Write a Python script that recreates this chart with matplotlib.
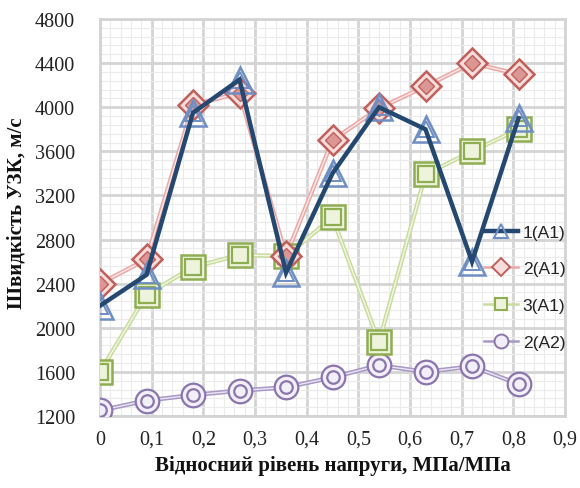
import matplotlib
matplotlib.use("Agg")
import matplotlib.pyplot as plt
import matplotlib.patheffects as pe
from matplotlib.lines import Line2D
from matplotlib.ticker import MultipleLocator, FuncFormatter

x = [0, 0.09, 0.18, 0.27, 0.36, 0.45, 0.54, 0.63, 0.72, 0.81]
s1_A1 = [2200, 2480, 3950, 4250, 2500, 3400, 4000, 3800, 2600, 3900]
s2_A1 = [2400, 2620, 4020, 4130, 2650, 3700, 3990, 4190, 4400, 4300]
s3_A1 = [1600, 2300, 2550, 2660, 2650, 3000, 1870, 3390, 3600, 3800]
s2_A2 = [1250, 1340, 1390, 1430, 1460, 1550, 1660, 1600, 1650, 1490]
labels = ["1(A1)", "2(A1)", "3(A1)", "2(A2)"]
x_ticks = [0, 0.1, 0.2, 0.3, 0.4, 0.5, 0.6, 0.7, 0.8, 0.9]
y_ticks = [1200, 1600, 2000, 2400, 2800, 3200, 3600, 4000, 4400, 4800]

fig = plt.figure(figsize=(5.8, 4.89), dpi=100)
ax = fig.add_axes([100/580, 1-417/489, 465/580, 397/489])
ax.set_xlim(0, 0.9)
ax.set_ylim(1200, 4800)

# grid
ax.xaxis.set_major_locator(MultipleLocator(0.1))
ax.xaxis.set_minor_locator(MultipleLocator(0.02))
ax.yaxis.set_major_locator(MultipleLocator(400))
ax.yaxis.set_minor_locator(MultipleLocator(80))
ax.grid(which="minor", color="#ebebeb", linewidth=0.8)
ax.grid(which="major", color="#d4d4d4", linewidth=2.0)
ax.set_axisbelow(True)
for sp in ax.spines.values():
    sp.set_color("#d4d4d4")
    sp.set_linewidth(2.0)
ax.tick_params(which="both", length=0)
ax.tick_params(axis="y", pad=18)
ax.tick_params(axis="x", pad=10)
ax.set_xticks(x_ticks)
ax.set_yticks(y_ticks)
ax.xaxis.set_major_formatter(FuncFormatter(lambda v, p: "0" if abs(v) < 1e-9 else ("%.1f" % v).replace(".", ",")))
for lab in ax.get_xticklabels() + ax.get_yticklabels():
    lab.set_fontfamily("Liberation Serif")
    lab.set_fontsize(14.5)
    lab.set_color("#222222")

def double_line(xs, ys, edge, inner, z):
    ax.plot(xs, ys, color=inner, linewidth=1.0, zorder=z,
            path_effects=[pe.Stroke(linewidth=3.2, foreground=edge), pe.Normal()])

# series 2(A2) purple
pur_e, pur_i = "#a898c4", "#ece6f4"
double_line(x, s2_A2, pur_e, pur_i, 2)
ax.plot(x, s2_A2, linestyle="none", marker="o", markersize=17, markerfacecolor="#f3eff8",
        markeredgecolor="#8a76ad", markeredgewidth=1.6, zorder=3)
ax.plot(x, s2_A2, linestyle="none", marker="o", markersize=9, markerfacecolor="none",
        markeredgecolor="#8a76ad", markeredgewidth=1.6, zorder=3)

# series 3(A1) green
gr_e, gr_i = "#c9dc9e", "#f2f7e6"
double_line(x, s3_A1, gr_e, gr_i, 2)
ax.plot(x, s3_A1, linestyle="none", marker="s", markersize=17, markerfacecolor="#eef4dc",
        markeredgecolor="#8fae52", markeredgewidth=1.8, zorder=3)
ax.plot(x, s3_A1, linestyle="none", marker="s", markersize=11, markerfacecolor="none",
        markeredgecolor="#8fae52", markeredgewidth=1.6, zorder=3)

# series 2(A1) red
rd_e, rd_i = "#eaa9a7", "#fbe9e8"
double_line(x, s2_A1, rd_e, rd_i, 2)
ax.plot(x, s2_A1, linestyle="none", marker="D", markersize=15, markerfacecolor="#f6dcdb",
        markeredgecolor="#c0605c", markeredgewidth=1.8, zorder=3)
ax.plot(x, s2_A1, linestyle="none", marker="D", markersize=8, markerfacecolor="#dc9694",
        markeredgecolor="#c0605c", markeredgewidth=1.0, zorder=3)

# series 1(A1) blue
ax.plot(x, s1_A1, linestyle="none", marker="^", markersize=19, markerfacecolor="none",
        markeredgecolor="#6f8fc4", markeredgewidth=1.8, zorder=4)
ax.plot(x, s1_A1, linestyle="none", marker="^", markersize=12, markerfacecolor="none",
        markeredgecolor="#6f8fc4", markeredgewidth=1.4, zorder=4)
ax.plot(x, s1_A1, color="#24486f", linewidth=3.2, zorder=5, solid_joinstyle="miter")

# legend
h1 = Line2D([], [], color="#24486f", linewidth=3.2, marker="^", markersize=10,
            markerfacecolor="none", markeredgecolor="#6f8fc4", markeredgewidth=1.5)
h2 = Line2D([], [], color=rd_e, linewidth=1.8, marker="D", markersize=9,
            markerfacecolor="#f6dcdb", markeredgecolor="#c0605c", markeredgewidth=1.4)
h3 = Line2D([], [], color=gr_e, linewidth=1.8, marker="s", markersize=9,
            markerfacecolor="#eef4dc", markeredgecolor="#8fae52", markeredgewidth=1.5)
h4 = Line2D([], [], color=pur_e, linewidth=1.8, marker="o", markersize=10,
            markerfacecolor="#f3eff8", markeredgecolor="#8a76ad", markeredgewidth=1.4)
leg = ax.legend([h1, h2, h3, h4], labels, loc="upper left", bbox_to_anchor=(0.81, 0.50),
                frameon=False, prop={"family": "Liberation Sans", "size": 12.5},
                handlelength=2.0, handletextpad=0.25, labelspacing=1.25, borderaxespad=0)
for t in leg.get_texts():
    t.set_color("#222222")

fig.text(17/580, 1-213/489, "Швидкість УЗК, м/с", rotation=90, ha="center", va="center",
         fontfamily="Liberation Serif", fontweight="bold", fontsize=15, color="#111111")
fig.text(333/580, 1-466/489, "Відносний рівень напруги, МПа/МПа", ha="center", va="center",
         fontfamily="Liberation Serif", fontweight="bold", fontsize=15, color="#111111")

fig.savefig("out.png", dpi=100)
